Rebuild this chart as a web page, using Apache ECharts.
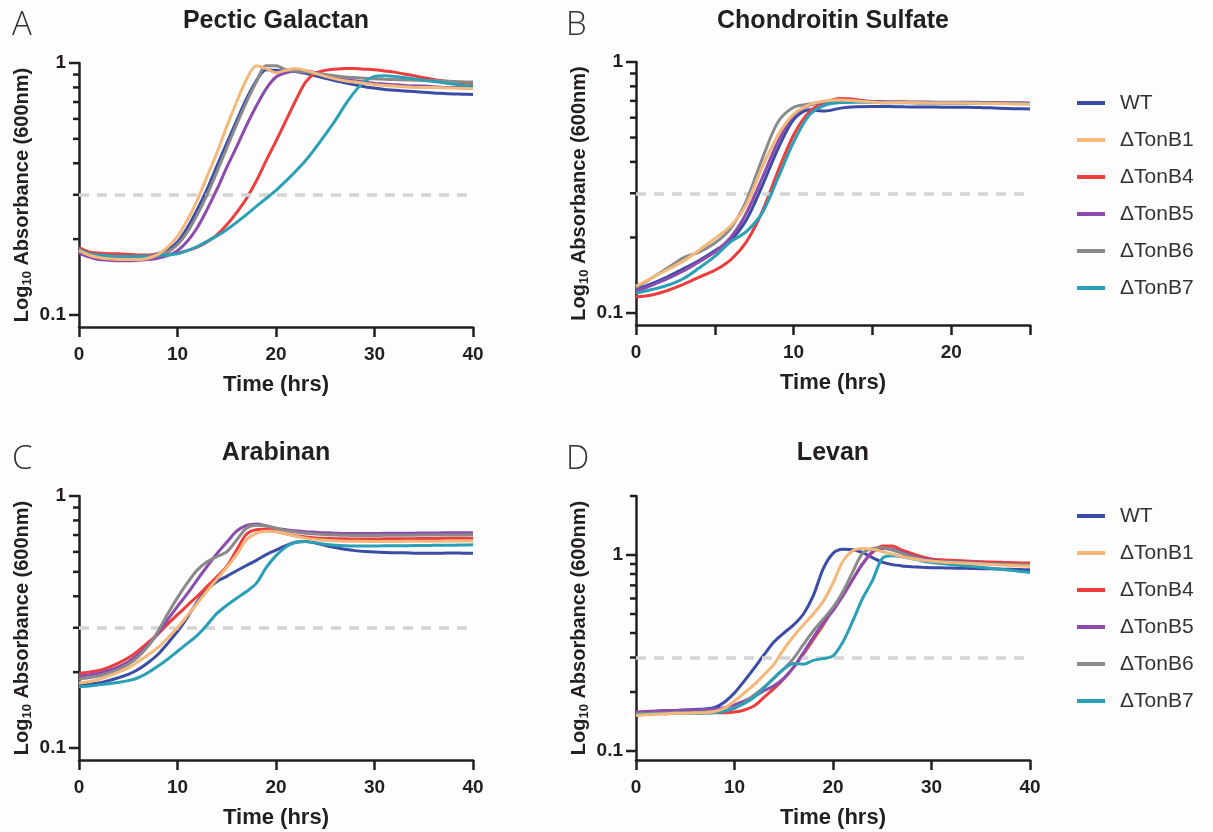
<!DOCTYPE html>
<html>
<head>
<meta charset="utf-8">
<script src="https://cdn.jsdelivr.net/npm/echarts@6.0.0/dist/echarts.min.js"></script>
<style>
html,body{margin:0;padding:0;background:#fdfdfd;}
#chart{width:1213px;height:832px;}
</style>
</head>
<body>
<div id="chart"></div>
<script>
// ---------- data ----------
const strains = ['WT', 'ΔTonB1', 'ΔTonB4', 'ΔTonB5', 'ΔTonB6', 'ΔTonB7'];
const strainColors = ['#3b4ca6', '#f4b97a', '#ee3d3d', '#8b4cae', '#8a8a8a', '#2aa0b6'];

const hours0to40 = [0,1,2,3,4,5,6,7,8,9,10,11,12,13,14,15,16,17,18,19,20,21,22,23,24,25,26,27,28,29,30,31,32,33,34,35,36,37,38,39,40];
const hours0to25 = [0,1,2,3,4,5,6,7,8,9,10,11,12,13,14,15,16,17,18,19,20,21,22,23,24,25];

const thresholdOD = 0.3;
const yLabelValues = [0.1, 1];
const yMajorTickValues = [0.1, 1];
const yMinorTickValues = [0.2, 0.3, 0.4, 0.5, 0.6, 0.7, 0.8, 0.9];
const yMinorTickValuesLevan = [0.2, 0.3, 0.4, 0.5, 0.6, 0.7, 0.8, 0.9, 2];

// A: Pectic Galactan
const pecticWT = [0.185,0.176,0.174,0.172,0.171,0.171,0.171,0.172,0.175,0.182,0.195,0.222,0.262,0.315,0.39,0.48,0.59,0.72,0.85,0.94,0.935,0.93,0.925,0.91,0.89,0.87,0.85,0.835,0.82,0.805,0.795,0.785,0.78,0.775,0.77,0.765,0.76,0.757,0.754,0.752,0.75];
const pecticB1 = [0.18,0.173,0.169,0.167,0.166,0.166,0.166,0.168,0.174,0.186,0.205,0.238,0.285,0.355,0.44,0.56,0.7,0.86,0.975,0.95,0.915,0.935,0.95,0.935,0.91,0.885,0.865,0.85,0.84,0.83,0.82,0.815,0.81,0.805,0.8,0.8,0.8,0.797,0.795,0.793,0.79];
const pecticB4 = [0.185,0.178,0.176,0.175,0.175,0.174,0.173,0.173,0.173,0.174,0.176,0.18,0.186,0.195,0.208,0.228,0.255,0.29,0.34,0.41,0.49,0.59,0.71,0.84,0.91,0.935,0.945,0.95,0.95,0.945,0.94,0.93,0.92,0.905,0.89,0.875,0.86,0.85,0.84,0.835,0.83];
const pecticB5 = [0.176,0.17,0.166,0.165,0.164,0.164,0.165,0.166,0.168,0.172,0.18,0.196,0.222,0.262,0.315,0.385,0.465,0.565,0.675,0.79,0.88,0.915,0.93,0.93,0.915,0.895,0.875,0.86,0.85,0.84,0.83,0.825,0.82,0.815,0.81,0.81,0.805,0.8,0.8,0.8,0.8];
const pecticB6 = [0.18,0.174,0.171,0.169,0.168,0.168,0.168,0.169,0.172,0.178,0.19,0.213,0.25,0.3,0.37,0.46,0.57,0.7,0.84,0.975,0.975,0.94,0.93,0.92,0.91,0.9,0.89,0.88,0.875,0.87,0.865,0.862,0.86,0.857,0.855,0.852,0.85,0.847,0.845,0.842,0.84];
const pecticB7 = [0.182,0.175,0.173,0.172,0.171,0.171,0.171,0.171,0.172,0.173,0.175,0.18,0.187,0.196,0.206,0.218,0.233,0.25,0.27,0.29,0.312,0.34,0.372,0.41,0.46,0.52,0.59,0.68,0.77,0.845,0.885,0.89,0.885,0.875,0.865,0.855,0.845,0.835,0.825,0.815,0.81];

// B: Chondroitin Sulfate
const chondWT = [0.124,0.131,0.1395,0.15,0.162,0.177,0.195,0.235,0.32,0.45,0.59,0.645,0.638,0.655,0.663,0.665,0.665,0.663,0.662,0.662,0.66,0.66,0.658,0.655,0.652,0.65];
const chondB1 = [0.128,0.138,0.149,0.161,0.178,0.198,0.222,0.27,0.38,0.51,0.62,0.675,0.7,0.705,0.7,0.692,0.688,0.69,0.688,0.687,0.687,0.685,0.684,0.683,0.681,0.678];
const chondB4 = [0.116,0.118,0.123,0.13,0.139,0.148,0.163,0.192,0.253,0.366,0.512,0.634,0.69,0.715,0.708,0.695,0.69,0.69,0.688,0.688,0.687,0.687,0.686,0.685,0.684,0.683];
const chondB5 = [0.122,0.129,0.137,0.147,0.16,0.175,0.2,0.25,0.344,0.48,0.615,0.672,0.695,0.7,0.7,0.697,0.695,0.694,0.693,0.692,0.692,0.691,0.69,0.689,0.688,0.687];
const chondB6 = [0.126,0.138,0.151,0.166,0.175,0.19,0.217,0.28,0.41,0.575,0.66,0.68,0.695,0.7,0.698,0.693,0.69,0.69,0.689,0.688,0.688,0.687,0.686,0.685,0.684,0.683];
const chondB7 = [0.12,0.124,0.129,0.137,0.151,0.168,0.192,0.211,0.25,0.344,0.48,0.615,0.674,0.69,0.692,0.69,0.688,0.688,0.687,0.687,0.686,0.686,0.685,0.684,0.683,0.682];

// C: Arabinan
const arabWT = [0.178,0.179,0.181,0.185,0.19,0.196,0.205,0.218,0.235,0.26,0.29,0.33,0.38,0.425,0.458,0.48,0.505,0.53,0.555,0.585,0.61,0.635,0.655,0.66,0.65,0.637,0.625,0.615,0.607,0.602,0.6,0.597,0.595,0.595,0.593,0.592,0.592,0.593,0.594,0.593,0.592];
const arabB1 = [0.181,0.183,0.187,0.193,0.2,0.208,0.22,0.234,0.25,0.273,0.3,0.335,0.375,0.42,0.468,0.52,0.585,0.67,0.71,0.725,0.722,0.708,0.692,0.68,0.672,0.667,0.664,0.662,0.661,0.66,0.66,0.66,0.66,0.661,0.661,0.662,0.662,0.662,0.663,0.663,0.663];
const arabB4 = [0.198,0.2,0.203,0.209,0.217,0.228,0.243,0.262,0.283,0.31,0.338,0.368,0.4,0.437,0.478,0.525,0.61,0.705,0.735,0.738,0.725,0.708,0.696,0.688,0.682,0.679,0.677,0.676,0.675,0.675,0.675,0.676,0.676,0.677,0.677,0.678,0.678,0.679,0.679,0.68,0.68];
const arabB5 = [0.193,0.195,0.198,0.203,0.21,0.22,0.235,0.255,0.285,0.323,0.365,0.41,0.465,0.525,0.59,0.655,0.725,0.765,0.775,0.762,0.745,0.735,0.728,0.722,0.718,0.714,0.712,0.71,0.71,0.71,0.71,0.711,0.711,0.712,0.712,0.713,0.713,0.714,0.714,0.715,0.715];
const arabB6 = [0.188,0.19,0.193,0.198,0.205,0.215,0.23,0.253,0.29,0.34,0.395,0.452,0.508,0.548,0.575,0.6,0.668,0.745,0.765,0.76,0.745,0.73,0.72,0.712,0.706,0.702,0.7,0.698,0.697,0.697,0.697,0.698,0.698,0.699,0.699,0.7,0.7,0.7,0.701,0.701,0.702];
const arabB7 = [0.175,0.176,0.178,0.18,0.182,0.185,0.19,0.199,0.211,0.225,0.242,0.26,0.28,0.308,0.342,0.368,0.393,0.418,0.45,0.52,0.58,0.628,0.655,0.66,0.652,0.643,0.637,0.634,0.633,0.633,0.633,0.634,0.634,0.635,0.636,0.636,0.637,0.638,0.638,0.639,0.64];

// D: Levan
const levanWT = [0.157,0.158,0.159,0.16,0.161,0.162,0.163,0.164,0.167,0.178,0.198,0.228,0.265,0.31,0.36,0.4,0.44,0.5,0.62,0.85,1.02,1.07,1.065,1.03,0.97,0.92,0.893,0.88,0.872,0.866,0.862,0.86,0.858,0.856,0.854,0.852,0.85,0.848,0.846,0.843,0.84];
const levanB1 = [0.152,0.153,0.154,0.155,0.156,0.156,0.157,0.157,0.159,0.166,0.18,0.198,0.218,0.245,0.277,0.33,0.385,0.44,0.5,0.58,0.72,0.93,1.05,1.08,1.07,1.04,1.01,0.98,0.96,0.942,0.93,0.92,0.915,0.91,0.905,0.9,0.895,0.89,0.885,0.88,0.877];
const levanB4 = [0.153,0.154,0.155,0.156,0.156,0.157,0.157,0.157,0.157,0.157,0.158,0.162,0.17,0.188,0.208,0.233,0.267,0.312,0.37,0.44,0.53,0.62,0.75,0.9,1.03,1.11,1.11,1.06,1.02,0.98,0.955,0.945,0.94,0.935,0.93,0.925,0.92,0.918,0.915,0.912,0.91];
const levanB5 = [0.158,0.159,0.16,0.161,0.161,0.162,0.162,0.163,0.164,0.167,0.172,0.18,0.19,0.203,0.215,0.235,0.268,0.318,0.38,0.45,0.52,0.62,0.75,0.9,1.04,1.08,1.07,1.03,0.99,0.96,0.94,0.93,0.925,0.92,0.915,0.91,0.905,0.9,0.895,0.89,0.887];
const levanB6 = [0.155,0.155,0.156,0.156,0.157,0.157,0.157,0.158,0.158,0.16,0.165,0.177,0.193,0.212,0.235,0.262,0.297,0.35,0.41,0.47,0.54,0.65,0.82,1.02,1.08,1.09,1.06,1.02,0.98,0.95,0.93,0.925,0.92,0.915,0.91,0.905,0.9,0.898,0.895,0.892,0.89];
const levanB7 = [0.153,0.154,0.155,0.155,0.156,0.156,0.156,0.156,0.157,0.16,0.166,0.175,0.188,0.21,0.236,0.262,0.28,0.277,0.29,0.296,0.306,0.36,0.46,0.6,0.74,0.96,0.99,0.98,0.96,0.935,0.915,0.905,0.895,0.885,0.875,0.865,0.855,0.845,0.835,0.825,0.815];

// ---------- layout / styles ----------
const INK = '#231f20';
const FONT = 'Liberation Sans, Arial, sans-serif';
const drawOrder = [0, 2, 3, 4, 5, 1];
const MAJOR_TICK_LEN = 10, MINOR_TICK_LEN = 6;

const panels = [
  { letter: 'A', title: 'Pectic Galactan', time: hours0to40, values: [pecticWT, pecticB1, pecticB4, pecticB5, pecticB6, pecticB7],
    xMax: 40, xStep: 10, yMin: 0.0896, yMax: 1, minor: yMinorTickValues,
    box: { left: 79, top: 63, width: 394, height: 264 }, letterPos: [12, 9], titleX: 276, titleTop: 9 },
  { letter: 'B', title: 'Chondroitin Sulfate', time: hours0to25, values: [chondWT, chondB1, chondB4, chondB5, chondB6, chondB7],
    xMax: 25, xStep: 5, yMin: 0.0896, yMax: 1, minor: yMinorTickValues,
    box: { left: 636, top: 62, width: 394, height: 263 }, letterPos: [566, 9], titleX: 833, titleTop: 9 },
  { letter: 'C', title: 'Arabinan', time: hours0to40, values: [arabWT, arabB1, arabB4, arabB5, arabB6, arabB7],
    xMax: 40, xStep: 10, yMin: 0.0896, yMax: 1, minor: yMinorTickValues,
    box: { left: 79, top: 496, width: 394, height: 264 }, letterPos: [12, 443], titleX: 276, titleTop: 441 },
  { letter: 'D', title: 'Levan', time: hours0to40, values: [levanWT, levanB1, levanB4, levanB5, levanB6, levanB7],
    xMax: 40, xStep: 10, yMin: 0.09, yMax: 2, minor: yMinorTickValuesLevan,
    box: { left: 636, top: 496, width: 394, height: 264 }, letterPos: [566, 443], titleX: 833, titleTop: 441 }
];

const axisLineStyle = { color: INK, width: 2.5 };

const grids = [], xAxes = [], yAxes = [], series = [], titles = [];

panels.forEach((p, i) => {
  grids.push(Object.assign({ containLabel: false }, p.box));

  titles.push({
    text: p.title, left: p.titleX, top: p.titleTop, textAlign: 'center', padding: 0,
    textStyle: { fontFamily: FONT, fontSize: 25, fontWeight: 'bold', color: INK }
  });
  titles.push({
    text: p.letter, left: p.letterPos[0], top: p.letterPos[1], padding: 0,
    textStyle: { fontFamily: 'Open Sans, Liberation Sans, sans-serif', fontSize: 33, fontWeight: 300, color: '#333333' }
  });

  xAxes.push({
    type: 'value', gridIndex: i, min: 0, max: p.xMax, interval: p.xStep,
    axisLine: { show: true, onZero: false, lineStyle: axisLineStyle },
    axisTick: { show: true, length: 10, lineStyle: axisLineStyle },
    splitLine: { show: false },
    axisLabel: {
      fontFamily: FONT, fontSize: 19, fontWeight: 'bold', color: INK, margin: 18,
      formatter: v => (v % 10 === 0 ? String(v) : '')
    },
    name: 'Time (hrs)', nameLocation: 'middle', nameGap: 47,
    nameTextStyle: { fontFamily: FONT, fontSize: 22, fontWeight: 'bold', color: INK }
  });

  yAxes.push({
    type: 'log', logBase: 10, gridIndex: i, position: 'left', min: p.yMin, max: p.yMax,
    axisLine: { show: true, onZero: false, lineStyle: axisLineStyle },
    axisTick: { show: false },
    axisLabel: { customValues: yLabelValues, fontFamily: FONT, fontSize: 19, fontWeight: 'bold', color: INK, margin: 13 },
    splitLine: { show: false },
    name: '{a|Log}{s|10}{a| Absorbance (600nm)}', nameLocation: 'middle', nameGap: 45, nameRotate: 90,
    nameTextStyle: {
      fontFamily: FONT, fontSize: 20, fontWeight: 'bold', color: INK,
      rich: {
        a: { fontFamily: FONT, fontSize: 20, fontWeight: 'bold', color: INK },
        s: { fontFamily: FONT, fontSize: 13, fontWeight: 'bold', color: INK, padding: [10, 0, 0, 0] }
      }
    }
  });

  // y-axis tick marks, placed through the log axis scale
  const tickData = yMajorTickValues.map(v => [0, v, MAJOR_TICK_LEN])
    .concat(p.minor.filter(v => v <= p.yMax).map(v => [0, v, MINOR_TICK_LEN]));
  series.push({
    type: 'custom', name: 'yTicks' + i, xAxisIndex: i, yAxisIndex: i,
    silent: true, clip: false, z: 20, data: tickData,
    encode: { x: 0, y: 1 },
    renderItem: (params, api) => {
      const pt = api.coord([api.value(0), api.value(1)]);
      const len = api.value(2);
      return {
        type: 'line',
        shape: { x1: pt[0] - len, y1: pt[1], x2: pt[0], y2: pt[1] },
        style: { stroke: INK, lineWidth: 2.5 }
      };
    }
  });

  drawOrder.forEach((k, n) => {
    const s = {
      type: 'line', name: strains[k], xAxisIndex: i, yAxisIndex: i,
      data: p.time.map((t, j) => [t, p.values[k][j]]),
      showSymbol: false, symbol: 'none', smooth: 0.3,
      color: strainColors[k],
      lineStyle: { width: 3, color: strainColors[k] },
      emphasis: { disabled: true },
      z: 3 + n
    };
    if (n === 0) {
      s.markLine = {
        silent: true, symbol: ['none', 'none'], label: { show: false },
        lineStyle: { type: [10, 8], color: '#d4d4d4', width: 3.5 },
        emphasis: { disabled: true },
        data: [{ yAxis: thresholdOD }]
      };
    }
    series.push(s);
  });
});

const legendBase = {
  orient: 'vertical', left: 1077, padding: 0, icon: 'rect', itemWidth: 28, itemHeight: 4,
  itemGap: 15, data: strains, selectedMode: false,
  textStyle: { fontFamily: FONT, fontSize: 21, color: '#333333', lineHeight: 22, padding: [0, 0, 0, 10] }
};

const option = {
  backgroundColor: '#fdfdfd',
  animation: false,
  title: titles,
  grid: grids,
  xAxis: xAxes,
  yAxis: yAxes,
  legend: [
    Object.assign({}, legendBase, { top: 92 }),
    Object.assign({}, legendBase, { top: 505 })
  ],
  series: series
};

const chart = echarts.init(document.getElementById('chart'), null, { renderer: 'canvas' });
chart.setOption(option);
</script>
</body>
</html>
